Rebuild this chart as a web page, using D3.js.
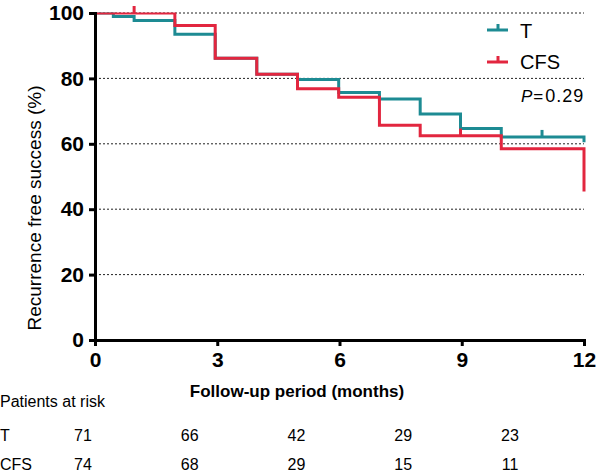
<!DOCTYPE html>
<html>
<head>
<meta charset="utf-8">
<script src="https://cdn.jsdelivr.net/npm/d3@7"></script>
<style>
  body { margin: 0; background: #fff; }
  svg { font-family: "Liberation Sans", Arial, sans-serif; }
</style>
</head>
<body>
<div id="chart"></div>
<script>
// Kaplan-Meier step data
var tTimes = [0, 0.45, 0.96, 1.96, 2.95, 3.97, 4.97, 5.98, 6.98, 7.98, 8.97, 9.97, 12];
var tValues = [100, 98.9, 97.7, 93.5, 86.2, 81.3, 79.7, 75.7, 73.7, 69.1, 64.7, 62.1, 60.5];
var cfsTimes = [0, 1.96, 2.95, 3.97, 4.97, 5.98, 6.98, 7.98, 9.97, 12];
var cfsValues = [100, 96.2, 86.2, 81.3, 76.8, 74.2, 65.7, 62.5, 58.5, 45.4];

// censored marks
var tCensorTimes = [10.97];
var cfsCensorTimes = [0.96, 8.97];

var xTicks = [0, 3, 6, 9, 12];
var yTicks = [0, 20, 40, 60, 80, 100];
var gridValues = [20, 40, 60, 80, 100];

var riskMonths = [0, 3, 6, 9, 12];
var tRisk = [71, 66, 42, 29, 23];
var cfsRisk = [74, 68, 29, 15, 11];

var teal = "#1d8b93",
  red = "#e2263f";

var width = 600,
  height = 475;

var svg = d3.select("#chart").append("svg").attr("width", width).attr("height", height);

var xScale = d3.scaleLinear().domain([0, 12]).range([95, 584]);
var yScale = d3.scaleLinear().domain([0, 100]).range([340, 13]);
var riskScale = d3.scaleLinear().domain([0, 12]).range([83, 510]);

// curves are clipped a little at the top like in the original
svg.append("clipPath").attr("id", "plot-clip")
  .append("rect")
  .attr("x", 0).attr("y", yScale(100) - 0.5)
  .attr("width", width).attr("height", 400);

// dotted grid
svg.append("g")
  .selectAll("line")
  .data(gridValues)
  .enter()
  .append("line")
  .attr("x1", xScale(0))
  .attr("x2", xScale(12))
  .attr("y1", d => yScale(d))
  .attr("y2", d => yScale(d))
  .attr("stroke", "#222")
  .attr("stroke-width", 1)
  .attr("stroke-dasharray", "2,2");

function stepValue(times, values, t) {
  var v = values[0];
  for (var i = 0; i < times.length; i++) {
    if (times[i] <= t) v = values[i];
  }
  return v;
}

var line = d3.line()
  .x(d => xScale(d[0]))
  .y(d => yScale(d[1]))
  .curve(d3.curveStepAfter);

var series = [
  { times: tTimes, values: tValues, censor: tCensorTimes, color: teal },
  { times: cfsTimes, values: cfsValues, censor: cfsCensorTimes, color: red }
];

series.forEach(function (s) {
  svg.append("path")
    .datum(d3.zip(s.times, s.values))
    .attr("d", line)
    .attr("clip-path", "url(#plot-clip)")
    .attr("fill", "none")
    .attr("stroke", s.color)
    .attr("stroke-width", 3);

  svg.append("g")
    .selectAll("line")
    .data(s.censor)
    .enter()
    .append("line")
    .attr("x1", d => xScale(d))
    .attr("x2", d => xScale(d))
    .attr("y1", d => yScale(stepValue(s.times, s.values, d)))
    .attr("y2", d => yScale(stepValue(s.times, s.values, d)) - 7)
    .attr("stroke", s.color)
    .attr("stroke-width", 3);
});

// axes
var xAxis = d3.axisBottom(xScale).tickValues(xTicks).tickSize(6).tickSizeOuter(0).tickPadding(6);
var yAxis = d3.axisLeft(yScale).tickValues(yTicks).tickSize(6).tickSizeOuter(0).tickPadding(5);

var gx = svg.append("g").attr("transform", "translate(0," + yScale(0) + ")").call(xAxis);
var gy = svg.append("g").attr("transform", "translate(" + xScale(0) + ",0)").call(yAxis);

[gx, gy].forEach(function (g) {
  g.select(".domain").attr("stroke", "#000").attr("stroke-width", 3).attr("stroke-linecap", "square");
  g.selectAll(".tick line").attr("stroke", "#000").attr("stroke-width", 3);
  g.selectAll(".tick text")
    .attr("fill", "#000")
    .style("font-size", "21px")
    .style("font-weight", "bold")
    .style("font-family", "'Liberation Sans', Arial, sans-serif");
});

// axis titles
svg.append("text")
  .attr("transform", "translate(41,208) rotate(-90)")
  .attr("text-anchor", "middle")
  .style("font-size", "19px")
  .text("Recurrence free success (%)");

svg.append("text")
  .attr("x", 297)
  .attr("y", 397)
  .attr("text-anchor", "middle")
  .style("font-size", "17px")
  .style("font-weight", "bold")
  .text("Follow-up period (months)");

// legend
var legendItems = [
  { label: "T", color: teal, y: 30, textY: 38 },
  { label: "CFS", color: red, y: 62, textY: 69 }
];
var legend = svg.append("g").attr("class", "legend");
legendItems.forEach(function (d) {
  legend.append("line")
    .attr("x1", 487).attr("x2", 508)
    .attr("y1", d.y).attr("y2", d.y)
    .attr("stroke", d.color).attr("stroke-width", 3);
  legend.append("line")
    .attr("x1", 498).attr("x2", 498)
    .attr("y1", d.y).attr("y2", d.y - 6)
    .attr("stroke", d.color).attr("stroke-width", 3);
  legend.append("text")
    .attr("x", 520)
    .attr("y", d.textY)
    .style("font-size", "20px")
    .text(d.label);
});

var pText = svg.append("text").attr("x", 521).attr("y", 102).style("font-size", "17px");
pText.append("tspan").style("font-style", "italic").text("P");
pText.append("tspan").text("=").attr("dx", 1);
pText.append("tspan").attr("dx", 2).style("letter-spacing", "1px").style("font-size", "18px").text("0.29");

// patients at risk table
svg.append("text")
  .attr("x", 0)
  .attr("y", 407)
  .style("font-size", "16px")
  .text("Patients at risk");

var rows = [
  { label: "T", values: tRisk, y: 441 },
  { label: "CFS", values: cfsRisk, y: 470 }
];
rows.forEach(function (r) {
  svg.append("text")
    .attr("x", 0)
    .attr("y", r.y)
    .style("font-size", "16px")
    .text(r.label);
  svg.append("g")
    .selectAll("text")
    .data(r.values)
    .enter()
    .append("text")
    .attr("x", (d, i) => riskScale(riskMonths[i]))
    .attr("y", r.y)
    .attr("text-anchor", "middle")
    .style("font-size", "16px")
    .text(d => d);
});
</script>
</body>
</html>
